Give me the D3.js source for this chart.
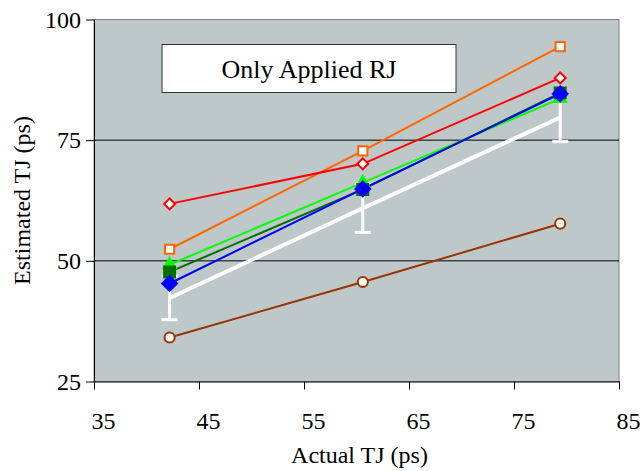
<!DOCTYPE html>
<html>
  <head>
    <meta charset="utf-8" />
    <title>Only Applied RJ</title>
    <style>
      body { margin: 0; background: #fff; }
    </style>
    <script src="https://d3js.org/d3.v7.min.js"></script>
  </head>
  <body>
    <div id="chart"></div>
    <script>
      // values
      const actualTJ = [42.2, 60.6, 79.4];
      const whiteMean = [42.3, 60.9, 79.7];
      const whiteErr = [4.5, 5, 5];
      const brownVals = [34.1, 45.6, 57.7];
      const limeVals = [49.2, 66.2, 83.6];
      const darkGreenVals = [47.7, 64.8, 84.8];
      const blueVals = [45.3, 64.9, 84.6];
      const orangeVals = [52.4, 72.8, 94.4];
      const redVals = [61.8, 70.1, 87.9];
      const xTicks = [35, 45, 55, 65, 75, 85];
      const yTicks = [25, 50, 75, 100];
      const gridVals = [50, 75];

      const serif = "'Liberation Serif', serif";
      const W = 644, H = 471;
      const margin = { top: 19.5, right: 25, bottom: 89.5, left: 94 };
      const width = W - margin.left - margin.right;
      const height = H - margin.top - margin.bottom;

      const svg = d3.select("#chart").append("svg")
        .attr("width", W).attr("height", H);
      const g = svg.append("g")
        .attr("transform", `translate(${margin.left},${margin.top})`);

      const x = d3.scaleLinear().domain([35, 85]).range([0, width]);
      const y = d3.scaleLinear().domain([25, 100]).range([height, 0]);

      // plot area
      g.append("rect")
        .attr("width", width).attr("height", height)
        .attr("fill", "#bec8c8").attr("stroke", "#808080").attr("stroke-width", 1);

      // gridlines
      g.selectAll(".grid").data(gridVals).enter().append("line")
        .attr("x1", 0).attr("x2", width)
        .attr("y1", d => y(d)).attr("y2", d => y(d))
        .attr("stroke", "#000").attr("stroke-width", 1);

      // axes
      const xAxis = g.append("g")
        .attr("transform", `translate(0,${height})`)
        .call(d3.axisBottom(x).tickValues(xTicks).tickSize(8).tickPadding(22).tickSizeOuter(0));
      xAxis.selectAll("text").attr("dx", 9);
      const yAxis = g.append("g")
        .call(d3.axisLeft(y).tickValues(yTicks).tickSize(8).tickPadding(5).tickSizeOuter(0));
      g.selectAll(".tick text").style("font-family", serif).style("font-size", "24px").attr("fill", "#000");
      g.selectAll(".domain").attr("stroke", "#000");
      g.selectAll(".tick line").attr("stroke", "#000");

      // axis titles
      svg.append("text")
        .attr("x", margin.left + width / 2 + 3).attr("y", 463)
        .attr("text-anchor", "middle")
        .style("font-family", serif).style("font-size", "24px")
        .text("Actual TJ (ps)");
      svg.append("text")
        .attr("transform", `translate(30,${margin.top + height / 2}) rotate(-90)`)
        .attr("text-anchor", "middle")
        .style("font-family", serif).style("font-size", "24px")
        .text("Estimated TJ (ps)");

      // label box
      const box = g.append("g").attr("transform", `translate(${162 - margin.left},${44.5 - margin.top})`);
      box.append("rect").attr("width", 294).attr("height", 48)
        .attr("fill", "#fff").attr("stroke", "#333").attr("stroke-width", 1);
      box.append("text").attr("x", 147).attr("y", 33)
        .attr("text-anchor", "middle")
        .style("font-family", serif).style("font-size", "26px")
        .text("Only Applied RJ");

      const line = d3.line().x((d, i) => x(actualTJ[i])).y(d => y(d));

      // white mean line with error bars
      g.append("path").datum(whiteMean).attr("d", line)
        .attr("fill", "none").attr("stroke", "#fff").attr("stroke-width", 4);
      const eb = g.selectAll(".eb").data(whiteMean).enter().append("g");
      eb.append("line")
        .attr("x1", (d, i) => x(actualTJ[i])).attr("x2", (d, i) => x(actualTJ[i]))
        .attr("y1", (d, i) => y(d + whiteErr[i])).attr("y2", (d, i) => y(d - whiteErr[i]))
        .attr("stroke", "#fff").attr("stroke-width", 3);
      eb.each(function (d, i) {
        [d + whiteErr[i], d - whiteErr[i]].forEach(v => {
          d3.select(this).append("line")
            .attr("x1", x(actualTJ[i]) - 8).attr("x2", x(actualTJ[i]) + 8)
            .attr("y1", y(v)).attr("y2", y(v))
            .attr("stroke", "#fff").attr("stroke-width", 3);
        });
      });

      // rot: 45 turns a square into an even diamond
      const series = [
        { vals: brownVals, color: "#993300", sym: d3.symbolCircle, size: 80, fill: "#fff", rot: 0 },
        { vals: limeVals, color: "#00ff00", sym: d3.symbolTriangle, size: 60, fill: "#00ff00", rot: 0 },
        { vals: darkGreenVals, color: "#007000", sym: d3.symbolSquare, size: 120, fill: "#007000", rot: 0 },
        { vals: blueVals, color: "#0000ff", sym: d3.symbolSquare, size: 110, fill: "#0000ff", rot: 45 },
        { vals: orangeVals, color: "#ff6600", sym: d3.symbolSquare, size: 85, fill: "#fff", rot: 0 },
        { vals: redVals, color: "#ff0000", sym: d3.symbolSquare, size: 60, fill: "#fff", rot: 45 }
      ];

      series.forEach(s => {
        g.append("path").datum(s.vals).attr("d", line)
          .attr("fill", "none").attr("stroke", s.color).attr("stroke-width", 2);
      });
      series.forEach(s => {
        g.selectAll(null).data(s.vals).enter().append("path")
          .attr("d", d3.symbol().type(s.sym).size(s.size))
          .attr("transform", (d, i) => `translate(${x(actualTJ[i])},${y(d)}) rotate(${s.rot})`)
          .attr("fill", s.fill).attr("stroke", s.color).attr("stroke-width", 2);
      });
    </script>
  </body>
</html>
